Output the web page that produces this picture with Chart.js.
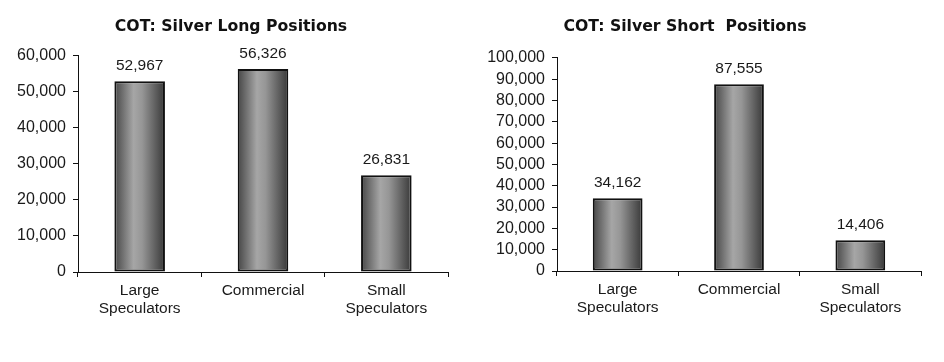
<!DOCTYPE html>
<html lang="en">
<head>
  <meta charset="UTF-8" />
  <title>COT: Silver Positions</title>
  <script src="https://cdn.jsdelivr.net/npm/chart.js"></script>
  <style>
    body { margin: 0; background: #ffffff; }
    #wrap { position: relative; width: 944px; height: 362px; overflow: hidden; }
    .box { position: absolute; top: 0; height: 362px; }
    #longBox { left: 14px; width: 436px; }
    #shortBox { left: 449px; width: 476px; }
  </style>
</head>
<body>
  <div id="wrap">
    <div class="box" id="longBox"><canvas id="longChart" width="436" height="362"></canvas></div>
    <div class="box" id="shortBox"><canvas id="shortChart" width="476" height="362"></canvas></div>
  </div>

  <script>
    const categories = [["Large", "Speculators"], "Commercial", ["Small", "Speculators"]];
    const longValues = [52967, 56326, 26831];
    const shortValues = [34162, 87555, 14406];
    const longTicks = [0, 10000, 20000, 30000, 40000, 50000, 60000];
    const shortTicks = [0, 10000, 20000, 30000, 40000, 50000, 60000, 70000, 80000, 90000, 100000];

    const textFont = '"Liberation Sans", Arial, sans-serif';
    const barPct = 0.41;

    function fmt(v) {
      return String(v).replace(/\B(?=(\d{3})+(?!\d))/g, ",");
    }

    // cylinder-like shading across each bar
    function barFill(ctx) {
      const chart = ctx.chart;
      if (!chart.chartArea) return "#888888";
      const xs = chart.scales.x;
      const cx = xs.getPixelForValue(ctx.dataIndex);
      const w = xs.width / categories.length * barPct;
      const g = chart.ctx.createLinearGradient(cx - w / 2, 0, cx + w / 2, 0);
      g.addColorStop(0, "#464646");
      g.addColorStop(0.38, "#a6a6a6");
      g.addColorStop(0.55, "#969696");
      g.addColorStop(1, "#383838");
      return g;
    }

    const valueLabels = {
      id: "valueLabels",
      afterDatasetsDraw(chart) {
        const c = chart.ctx;
        const meta = chart.getDatasetMeta(0);
        c.save();
        c.font = "15.5px " + textFont;
        c.fillStyle = "#1a1a1a";
        c.textAlign = "center";
        c.textBaseline = "bottom";
        meta.data.forEach((bar, i) => {
          c.fillText(fmt(chart.data.datasets[0].data[i]), bar.x, bar.y - 8);
        });
        c.restore();
      }
    };

    function makeChart(id, title, values, ticks, opts) {
      return new Chart(document.getElementById(id), {
        type: "bar",
        data: {
          labels: categories,
          datasets: [{
            data: values,
            backgroundColor: barFill,
            borderColor: "#111111",
            borderWidth: 2,
            borderSkipped: false,
            barPercentage: barPct,
            categoryPercentage: 1
          }]
        },
        options: {
          responsive: false,
          animation: false,
          devicePixelRatio: 1,
          layout: { padding: { left: 0, right: opts.padRight, top: 0, bottom: opts.padBottom } },
          plugins: {
            legend: { display: false },
            tooltip: { enabled: false },
            title: {
              display: true,
              text: title,
              color: "#111111",
              font: { family: '"DejaVu Sans", Verdana, sans-serif', size: 15.7, weight: "bold" },
              padding: { top: 18, bottom: opts.titleGap }
            }
          },
          scales: {
            x: {
              afterFit: s => { s.height = 60; },
              border: { color: "#111111", width: 1 },
              grid: { display: true, offset: true, drawOnChartArea: false, drawTicks: true, tickLength: 5, color: "#111111" },
              ticks: {
                color: "#1a1a1a",
                padding: 5,
                maxRotation: 0,
                autoSkip: false,
                font: { family: textFont, size: 15.5, lineHeight: 1.15 }
              }
            },
            y: {
              min: 0,
              max: ticks[ticks.length - 1],
              afterFit: s => { s.width = opts.axisWidth; },
              afterBuildTicks: s => { s.ticks = ticks.map(v => ({ value: v })); },
              border: { color: "#111111", width: 1 },
              grid: { display: true, drawOnChartArea: false, drawTicks: true, tickLength: 5, color: "#111111" },
              ticks: {
                color: "#1a1a1a",
                padding: 7,
                autoSkip: false,
                font: { family: textFont, size: 16 },
                callback: v => fmt(v)
              }
            }
          }
        },
        plugins: [valueLabels]
      });
    }

    makeChart("longChart", "COT: Silver Long Positions", longValues, longTicks,
      { padRight: 2, padBottom: 30, titleGap: 19, axisWidth: 64 });
    makeChart("shortChart", "COT: Silver Short  Positions", shortValues, shortTicks,
      { padRight: 4, padBottom: 31, titleGap: 21, axisWidth: 108 });
  </script>
</body>
</html>
